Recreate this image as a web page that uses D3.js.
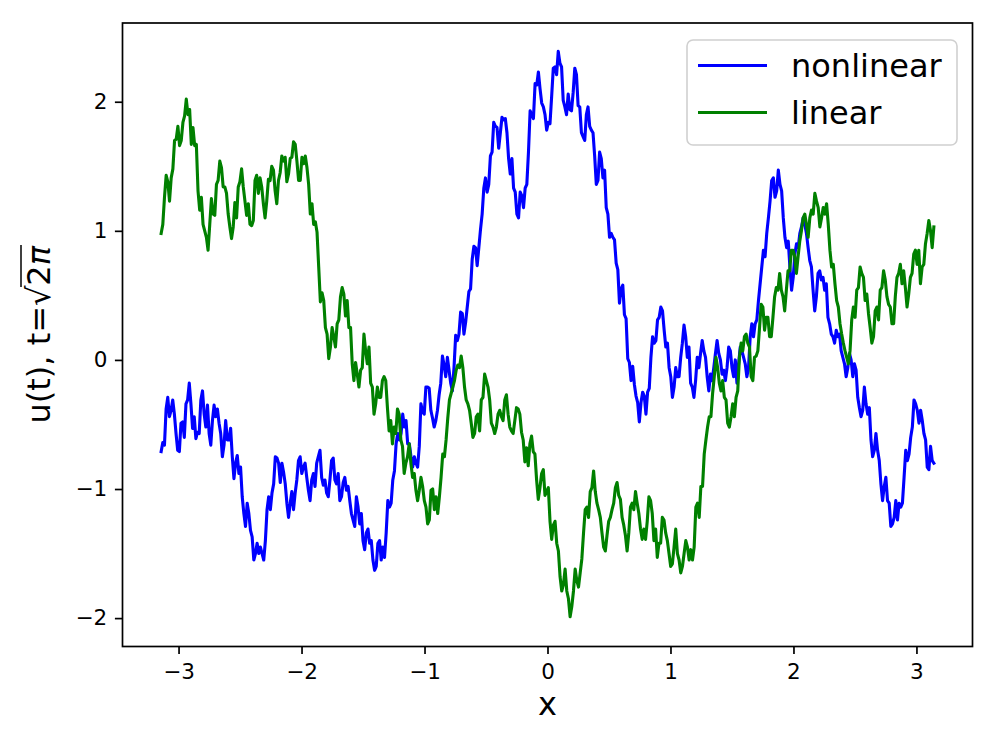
<!DOCTYPE html>
<html><head><meta charset="utf-8">
<script src="https://cdn.jsdelivr.net/npm/d3@7"></script>
<style>body{margin:0;background:#fff} svg{display:block} text{font-family:"DejaVu Sans",sans-serif}</style>
</head><body><svg id="c" width="996" height="747"></svg>
<script>
const seriesNames = ["nonlinear", "linear"];
const seriesColors = ["#0000ff", "#008000"];
const xRange = [-Math.PI, Math.PI];
const xTicks = [-3, -2, -1, 0, 1, 2, 3];
const yTicks = [-2, -1, 0, 1, 2];
const xDomain = [-3.4558, 3.4558];
const yDomain = [-2.22, 2.61];

const nonlinear = [
-0.71,-0.64,-0.66,-0.38,-0.29,-0.44,-0.39,-0.31,-0.42,-0.57,-0.70,-0.71,-0.49,-0.48,-0.60,-0.34,-0.31,-0.18,-0.34,-0.53,-0.44,-0.61,-0.56,-0.57,-0.31,-0.24,-0.42,-0.52,-0.35,-0.57,-0.66,-0.47,-0.35,-0.44,-0.38,-0.49,-0.57,-0.75,-0.66,-0.47,-0.62,-0.62,-0.53,-0.75,-0.92,-0.80,-0.74,-0.88,-0.83,-1.06,-1.19,-1.29,-1.11,-1.19,-1.32,-1.37,
-1.55,-1.50,-1.42,-1.50,-1.45,-1.50,-1.55,-1.40,-1.16,-1.06,-1.16,-1.03,-0.96,-0.75,-0.76,-0.80,-0.95,-0.80,-0.87,-0.96,-1.11,-1.22,-1.11,-1.02,-1.16,-1.03,-0.93,-0.78,-0.75,-0.88,-0.83,-0.80,-0.91,-1.01,-1.09,-0.93,-0.88,-0.98,-0.80,-0.75,-0.70,-0.91,-0.97,-0.93,-1.03,-1.06,-0.93,-0.78,-0.76,-0.93,-0.96,-0.88,-1.09,-1.06,-0.95,-0.91,-1.01,-0.98,-1.09,-1.19,
-1.24,-1.29,-1.06,-1.14,-1.27,-1.19,-1.40,-1.47,-1.34,-1.31,-1.42,-1.40,-1.55,-1.63,-1.60,-1.42,-1.40,-1.55,-1.45,-1.53,-1.34,-1.09,-1.14,-1.11,-0.93,-0.86,-0.65,-0.57,-0.62,-0.57,-0.42,-0.52,-0.47,-0.65,-0.65,-0.75,-0.83,-0.75,-0.80,-0.83,-0.67,
-0.34,-0.40,-0.42,-0.21,-0.21,-0.22,-0.39,-0.45,-0.52,-0.47,-0.39,-0.27,-0.18,0.03,-0.04,-0.13,0.02,-0.08,-0.18,-0.24,-0.06,0.19,0.15,0.20,0.37,0.36,0.20,0.29,0.41,
0.53,0.55,0.78,0.88,0.87,0.73,0.87,1.01,1.13,1.33,1.41,1.30,1.36,1.58,1.61,1.84,1.81,1.80,1.64,1.76,1.88,1.86,1.87,1.76,1.56,1.44,1.56,1.33,1.30,1.13,1.10,1.30,1.27,1.18,1.33,1.36,1.61,1.93,1.90,1.87,2.14,2.13,2.23,2.10,1.99,1.96,1.90,1.78,1.84,
1.83,2.04,2.26,2.27,2.21,2.39,2.30,2.27,2.01,1.96,1.90,2.06,1.94,1.93,2.07,2.26,2.21,1.97,1.96,1.76,1.73,1.70,1.90,1.96,1.81,1.78,1.76,1.58,1.36,1.39,1.61,1.56,1.41,1.47,1.18,1.13,0.95,0.98,0.95,0.93,0.75,0.70,0.44,0.55,0.58,0.35,0.32,0.01,-0.02,-0.16,-0.05,-0.19,-0.28,-0.33,-0.48,-0.33,-0.25,-0.28,-0.42,-0.25,-0.22,
0.02,0.18,0.13,0.15,0.31,0.33,0.41,0.38,0.23,0.10,0.13,-0.06,-0.13,-0.29,-0.21,-0.06,-0.13,-0.13,0.02,0.13,0.27,0.18,0.02,0.10,-0.18,-0.21,-0.29,-0.16,0.02,-0.06,0.05,0.15,0.07,0.02,-0.13,-0.24,-0.11,-0.16,-0.06,0.05,0.15,0.05,0.00,-0.11,-0.08,-0.16,-0.06,0.10,0.07,-0.06,-0.13,0.00,-0.18,-0.03,0.10,0.07,0.02,-0.03,-0.13,-0.06,
0.18,0.28,0.18,0.28,0.31,0.46,0.59,0.72,0.85,0.80,0.98,1.10,1.23,1.39,1.41,1.26,1.31,1.47,1.36,1.31,1.10,0.95,0.87,0.92,0.72,0.54,0.64,0.82,0.90,0.87,0.98,1.03,1.10,1.05,0.98,0.87,0.77,0.72,0.54,0.38,0.49,0.67,0.69,0.62,0.64,0.54,0.59,0.33,0.28,0.20,0.18,0.13,0.23,0.18,0.20,0.07,0.02,-0.03,-0.13,-0.06,
0.05,0.00,-0.13,-0.03,-0.08,-0.29,-0.37,-0.44,-0.39,-0.21,-0.34,-0.42,-0.37,-0.62,-0.75,-0.70,-0.57,-0.70,-0.78,-0.96,-1.09,-0.98,-0.91,-1.09,-1.11,-1.29,-1.27,-1.22,-1.09,-1.24,-1.11,-1.14,-1.11,-0.91,-0.70,-0.78,-0.73,-0.60,-0.52,-0.31,-0.34,-0.39,-0.49,-0.39,-0.47,-0.57,-0.62,-0.83,-0.85,-0.67,-0.78,-0.80
];

const linear = [
0.98,1.05,1.26,1.43,1.38,1.23,1.41,1.48,1.70,1.71,1.81,1.66,1.70,1.84,1.89,2.02,1.90,1.94,1.67,1.80,1.66,1.67,1.31,1.16,1.26,1.05,1.00,0.95,0.85,1.05,1.25,1.13,1.12,1.36,1.39,1.54,1.49,1.34,1.34,1.29,1.13,1.03,0.94,1.03,1.22,1.10,1.34,1.38,1.48,1.34,1.23,1.12,1.21,1.05,
1.04,1.08,1.39,1.43,1.29,1.41,1.34,1.21,1.10,1.23,1.40,1.39,1.50,1.47,1.31,1.21,1.39,1.45,1.58,1.54,1.57,1.38,1.44,1.56,1.57,1.69,1.67,1.54,1.39,1.39,1.57,1.52,1.58,1.49,1.36,1.13,1.21,1.05,1.07,0.99,0.72,0.45,0.52,0.46,0.25,0.20,0.01,0.10,0.25,0.18,0.10,0.28,0.31,0.49,0.56,0.51,0.34,0.46,0.25,
0.25,-0.03,-0.16,-0.02,-0.11,-0.21,-0.08,-0.06,0.20,0.07,-0.03,0.10,-0.18,-0.21,-0.42,-0.34,-0.21,-0.29,-0.29,-0.16,-0.13,-0.16,-0.37,-0.55,-0.47,-0.65,-0.52,-0.57,-0.38,-0.42,-0.62,-0.67,-0.88,-0.80,-0.75,-0.65,-0.80,-0.91,-0.88,-1.01,-1.09,-1.01,-0.91,-0.98,-1.09,-1.14,-1.27,-1.24,-1.01,-1.00,-1.16,-1.06,-1.19,-1.06,-0.91,-0.73,-0.75,
-0.62,-0.45,-0.31,-0.26,-0.21,-0.16,-0.08,-0.04,-0.06,0.03,-0.06,-0.21,-0.31,-0.34,-0.39,-0.49,-0.60,-0.57,-0.44,-0.42,-0.55,-0.31,-0.29,-0.11,-0.16,-0.21,-0.31,-0.49,-0.52,-0.57,-0.52,-0.42,-0.39,-0.44,-0.47,-0.31,-0.27,-0.42,-0.52,-0.55,-0.57,-0.47,-0.37,
-0.38,-0.42,-0.56,-0.62,-0.79,-0.68,-0.82,-0.65,-0.59,-0.71,-0.73,-0.93,-1.08,-0.99,-0.88,-0.85,-1.05,-1.02,
-0.99,-1.25,-1.39,-1.28,-1.25,-1.42,-1.48,-1.68,-1.79,-1.74,-1.62,-1.79,-1.85,-1.99,-1.91,-1.79,-1.62,-1.71,-1.76,-1.65,-1.54,-1.34,-1.16,-1.14,-1.22,-1.02,-0.99,-0.86,-1.02,-1.11,-1.16,-1.22,-1.34,-1.45,-1.48,-1.36,-1.25,-1.22,-1.16,-1.11,-0.99,-0.95,-1.05,-1.08,-1.22,-1.28,-1.36,-1.48,-1.34,-1.14,-1.11,-1.16,-1.02,-1.11,-1.19,-1.31,-1.39,-1.31,-1.39,-1.25,
-1.06,-1.09,-1.19,-1.40,-1.31,-1.53,-1.42,-1.42,-1.22,-1.24,-1.34,-1.40,-1.50,-1.60,-1.58,-1.45,-1.31,-1.50,-1.55,-1.65,-1.60,-1.50,-1.40,-1.45,-1.55,-1.47,-1.55,-1.45,-1.14,-1.11,-1.22,-0.98,-0.98,-0.73,-0.62,-0.52,-0.44,-0.44,-0.26,-0.13,0.02,-0.06,-0.18,-0.24,-0.16,-0.29,-0.31,-0.49,-0.52,-0.44,-0.34,-0.44,-0.29,-0.24,0.02,0.13,0.07,0.18,0.20,0.13,
0.10,-0.13,-0.16,0.02,0.03,0.07,0.25,0.43,0.41,0.23,0.33,0.33,0.18,0.18,0.33,0.49,0.56,0.54,0.67,0.54,0.49,0.38,0.54,0.69,0.69,0.85,0.85,0.80,0.67,0.80,0.92,1.00,1.10,1.13,1.05,0.95,1.10,1.16,1.13,1.29,1.23,1.18,1.03,1.10,1.18,1.13,1.21,1.05,0.85,0.72,0.74,0.59,0.46,0.41,0.28,0.20,0.13,0.07,0.02,-0.03,
0.07,0.31,0.41,0.33,0.54,0.56,0.72,0.67,0.64,0.46,0.51,0.36,0.25,0.13,0.18,0.38,0.41,0.31,0.54,0.56,0.69,0.62,0.49,0.43,0.41,0.28,0.28,0.49,0.64,0.67,0.74,0.59,0.69,0.56,0.41,0.51,0.64,0.67,0.82,0.85,0.74,0.85,0.59,0.72,0.74,0.90,0.98,1.08,1.00,0.87,1.03
];

const svg = d3.select("#c");
const L = 122.5, R = 972.5, T = 23, B = 646.5;
const x = d3.scaleLinear().domain(xDomain).range([L, R]);
const y = d3.scaleLinear().domain(yDomain).range([B, T]);

function toPoints(vals) {
  const n = vals.length;
  return vals.map((v, i) => [xRange[0] + (xRange[1] - xRange[0]) * i / (n - 1), v]);
}
const line = d3.line().x(d => x(d[0])).y(d => y(d[1]));

svg.append("defs").append("clipPath").attr("id", "clip")
  .append("rect").attr("x", L).attr("y", T).attr("width", R - L).attr("height", B - T);

const plot = svg.append("g").attr("clip-path", "url(#clip)");
[nonlinear, linear].forEach((vals, i) => {
  plot.append("path").datum(toPoints(vals)).attr("d", line)
    .attr("fill", "none").attr("stroke", seriesColors[i]).attr("stroke-width", 3.1)
    .attr("stroke-linejoin", "round").attr("stroke-linecap", "square");
});

const fmt = d3.format("d");
const xa = svg.append("g").attr("transform", `translate(0,${B})`)
  .call(d3.axisBottom(x).tickValues(xTicks).tickSize(7.6).tickPadding(10).tickFormat(fmt));
const ya = svg.append("g").attr("transform", `translate(${L},0)`)
  .call(d3.axisLeft(y).tickValues(yTicks).tickSize(7.6).tickPadding(7.6).tickFormat(fmt));
[xa, ya].forEach(a => {
  a.select(".domain").remove();
  a.selectAll(".tick line").attr("stroke", "#000").attr("stroke-width", 1.7);
  a.selectAll(".tick text").attr("fill", "#000").style("font-size", "21.5px").style("font-family", "DejaVu Sans");
});

svg.append("rect").attr("x", L).attr("y", T).attr("width", R - L).attr("height", B - T)
  .attr("fill", "none").attr("stroke", "#000").attr("stroke-width", 1.7);

// legend
const lg = svg.append("g");
lg.append("rect").attr("x", 687).attr("y", 40).attr("width", 270).attr("height", 105).attr("rx", 6)
  .attr("fill", "#fff").attr("fill-opacity", 0.8).attr("stroke", "#d0d0d0").attr("stroke-width", 1.6);
seriesNames.forEach((name, i) => {
  const cy = 65.5 + i * 47;
  lg.append("line").attr("x1", 698).attr("x2", 767).attr("y1", cy).attr("y2", cy)
    .attr("stroke", seriesColors[i]).attr("stroke-width", 3.1);
  lg.append("text").attr("x", 791).attr("y", cy).attr("dy", "0.36em")
    .style("font-size", "32px").attr("fill", "#000").text(name);
});

// x label
svg.append("text").attr("x", (L + R) / 2).attr("y", 715).attr("text-anchor", "middle")
  .style("font-size", "32px").text("x");

// y label with sqrt, centred on the axes
const yl = svg.append("g").attr("transform", `translate(50,${(T + B) / 2}) rotate(-90)`);
const t = yl.append("text").attr("y", 0).style("font-size", "32px");
const s1 = t.append("tspan").text("u(t), t=");
const s2 = t.append("tspan").text("\u221A");
const s3 = t.append("tspan").text("2");
const s4 = t.append("tspan").attr("font-style", "italic").text("\u03C0");
const w = t.node().getComputedTextLength();
const x0 = -w / 2;
t.attr("x", x0);
const w1 = s1.node().getComputedTextLength();
const w2 = s2.node().getComputedTextLength();
const w3 = s3.node().getComputedTextLength();
const w4 = s4.node().getComputedTextLength();
yl.append("line").attr("x1", x0 + w1 + w2 - 1.5).attr("x2", x0 + w1 + w2 + w3 + w4 + 1)
  .attr("y1", -29).attr("y2", -29).attr("stroke", "#000").attr("stroke-width", 1.5);
</script></body></html>
